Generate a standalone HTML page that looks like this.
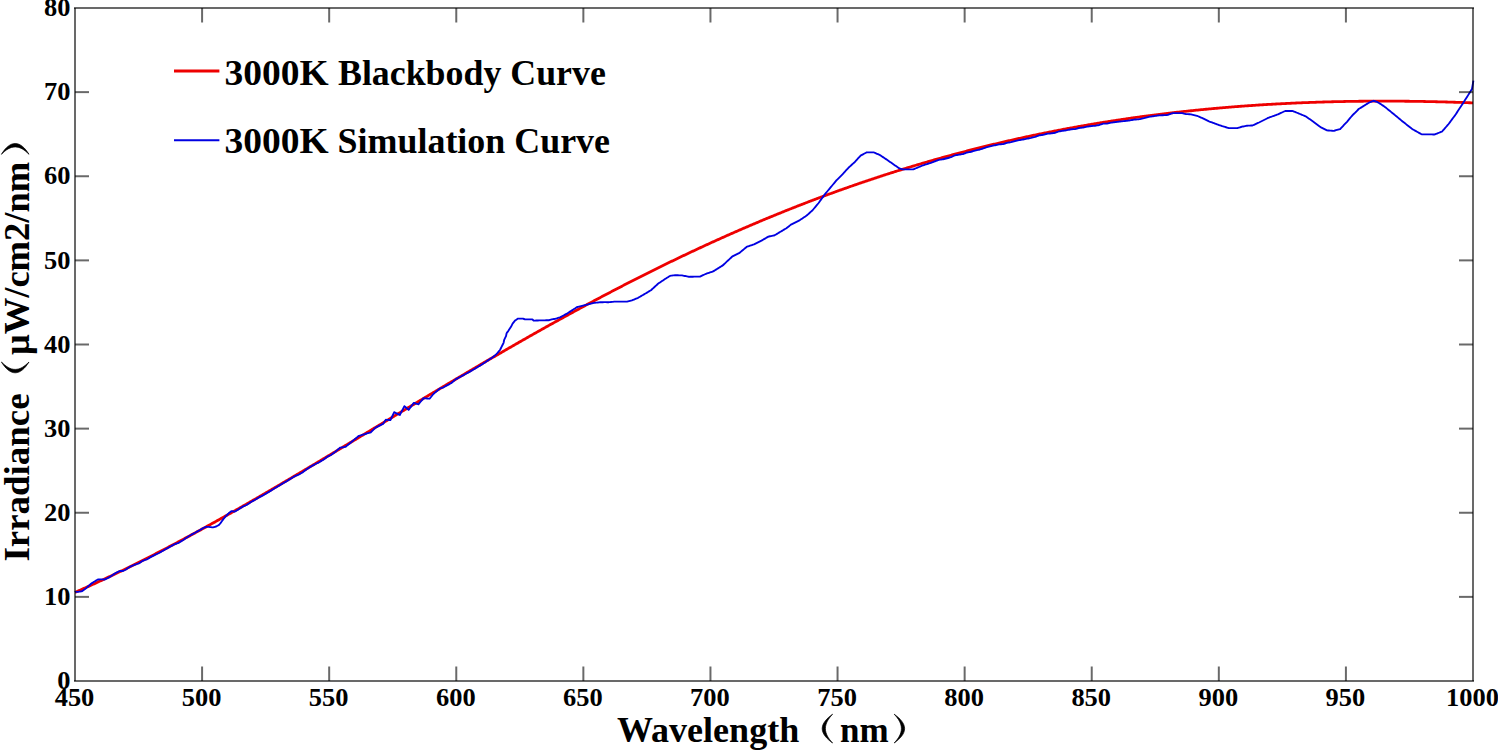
<!DOCTYPE html>
<html><head><meta charset="utf-8"><style>
html,body{margin:0;padding:0;background:#fff;}
svg{display:block;}
text{font-family:"Liberation Serif",serif;font-weight:bold;fill:#000;}
</style></head><body>
<svg width="1498" height="750" viewBox="0 0 1498 750">
<rect width="1498" height="750" fill="#fff"/>
<path d="M75.0,592.39 L76.0,591.95 L77.0,591.51 L78.0,591.07 L79.0,590.63 L80.0,590.18 L81.0,589.74 L82.0,589.29 L83.0,588.85 L84.0,588.40 L85.0,587.95 L86.0,587.50 L87.0,587.05 L88.0,586.60 L89.0,586.15 L90.0,585.69 L91.0,585.24 L92.0,584.78 L93.0,584.32 L94.0,583.87 L95.0,583.41 L96.0,582.95 L97.0,582.49 L98.0,582.03 L99.0,581.56 L100.0,581.10 L101.0,580.63 L102.0,580.17 L103.0,579.70 L104.0,579.23 L105.0,578.76 L106.0,578.29 L107.0,577.82 L108.0,577.35 L109.0,576.88 L110.0,576.40 L111.0,575.93 L112.0,575.45 L113.0,574.98 L114.0,574.50 L115.0,574.02 L116.0,573.54 L117.0,573.06 L118.0,572.58 L119.0,572.10 L120.0,571.61 L121.0,571.13 L122.0,570.65 L123.0,570.16 L124.0,569.67 L125.0,569.18 L126.0,568.70 L127.0,568.21 L128.0,567.71 L129.0,567.22 L130.0,566.73 L131.0,566.24 L132.0,565.74 L133.0,565.25 L134.0,564.75 L135.0,564.25 L136.0,563.76 L137.0,563.26 L138.0,562.76 L139.0,562.26 L140.0,561.76 L141.0,561.25 L142.0,560.75 L143.0,560.25 L144.0,559.74 L145.0,559.24 L146.0,558.73 L147.0,558.22 L148.0,557.71 L149.0,557.20 L150.0,556.69 L151.0,556.18 L152.0,555.67 L153.0,555.16 L154.0,554.65 L155.0,554.13 L156.0,553.62 L157.0,553.10 L158.0,552.59 L159.0,552.07 L160.0,551.55 L161.0,551.03 L162.0,550.51 L163.0,549.99 L164.0,549.47 L165.0,548.95 L166.0,548.42 L167.0,547.90 L168.0,547.38 L169.0,546.85 L170.0,546.32 L171.0,545.80 L172.0,545.27 L173.0,544.74 L174.0,544.21 L175.0,543.68 L176.0,543.15 L177.0,542.62 L178.0,542.09 L179.0,541.55 L180.0,541.02 L181.0,540.49 L182.0,539.95 L183.0,539.42 L184.0,538.88 L185.0,538.34 L186.0,537.80 L187.0,537.27 L188.0,536.73 L189.0,536.19 L190.0,535.65 L191.0,535.10 L192.0,534.56 L193.0,534.02 L194.0,533.48 L195.0,532.93 L196.0,532.39 L197.0,531.84 L198.0,531.30 L199.0,530.75 L200.0,530.20 L201.0,529.65 L202.0,529.10 L203.0,528.55 L204.0,528.00 L205.0,527.45 L206.0,526.90 L207.0,526.35 L208.0,525.80 L209.0,525.24 L210.0,524.69 L211.0,524.14 L212.0,523.58 L213.0,523.02 L214.0,522.47 L215.0,521.91 L216.0,521.35 L217.0,520.80 L218.0,520.24 L219.0,519.68 L220.0,519.12 L221.0,518.56 L222.0,518.00 L223.0,517.43 L224.0,516.87 L225.0,516.31 L226.0,515.75 L227.0,515.18 L228.0,514.62 L229.0,514.05 L230.0,513.49 L231.0,512.92 L232.0,512.35 L233.0,511.79 L234.0,511.22 L235.0,510.65 L236.0,510.08 L237.0,509.51 L238.0,508.94 L239.0,508.37 L240.0,507.80 L241.0,507.23 L242.0,506.66 L243.0,506.09 L244.0,505.51 L245.0,504.94 L246.0,504.37 L247.0,503.79 L248.0,503.22 L249.0,502.64 L250.0,502.07 L251.0,501.49 L252.0,500.91 L253.0,500.34 L254.0,499.76 L255.0,499.18 L256.0,498.60 L257.0,498.02 L258.0,497.44 L259.0,496.86 L260.0,496.28 L261.0,495.70 L262.0,495.12 L263.0,494.54 L264.0,493.96 L265.0,493.38 L266.0,492.80 L267.0,492.21 L268.0,491.63 L269.0,491.04 L270.0,490.46 L271.0,489.88 L272.0,489.29 L273.0,488.71 L274.0,488.12 L275.0,487.53 L276.0,486.95 L277.0,486.36 L278.0,485.77 L279.0,485.19 L280.0,484.60 L281.0,484.01 L282.0,483.42 L283.0,482.83 L284.0,482.24 L285.0,481.65 L286.0,481.06 L287.0,480.47 L288.0,479.88 L289.0,479.29 L290.0,478.70 L291.0,478.11 L292.0,477.52 L293.0,476.92 L294.0,476.33 L295.0,475.74 L296.0,475.15 L297.0,474.55 L298.0,473.96 L299.0,473.37 L300.0,472.77 L301.0,472.18 L302.0,471.58 L303.0,470.99 L304.0,470.39 L305.0,469.80 L306.0,469.20 L307.0,468.60 L308.0,468.01 L309.0,467.41 L310.0,466.82 L311.0,466.22 L312.0,465.62 L313.0,465.02 L314.0,464.43 L315.0,463.83 L316.0,463.23 L317.0,462.63 L318.0,462.03 L319.0,461.44 L320.0,460.84 L321.0,460.24 L322.0,459.64 L323.0,459.04 L324.0,458.44 L325.0,457.84 L326.0,457.24 L327.0,456.64 L328.0,456.04 L329.0,455.44 L330.0,454.84 L331.0,454.24 L332.0,453.64 L333.0,453.03 L334.0,452.43 L335.0,451.83 L336.0,451.23 L337.0,450.63 L338.0,450.03 L339.0,449.43 L340.0,448.82 L341.0,448.22 L342.0,447.62 L343.0,447.02 L344.0,446.41 L345.0,445.81 L346.0,445.21 L347.0,444.61 L348.0,444.00 L349.0,443.40 L350.0,442.80 L351.0,442.19 L352.0,441.59 L353.0,440.99 L354.0,440.38 L355.0,439.78 L356.0,439.18 L357.0,438.57 L358.0,437.97 L359.0,437.37 L360.0,436.76 L361.0,436.16 L362.0,435.55 L363.0,434.95 L364.0,434.35 L365.0,433.74 L366.0,433.14 L367.0,432.53 L368.0,431.93 L369.0,431.33 L370.0,430.72 L371.0,430.12 L372.0,429.51 L373.0,428.91 L374.0,428.31 L375.0,427.70 L376.0,427.10 L377.0,426.49 L378.0,425.89 L379.0,425.28 L380.0,424.68 L381.0,424.08 L382.0,423.47 L383.0,422.87 L384.0,422.26 L385.0,421.66 L386.0,421.06 L387.0,420.45 L388.0,419.85 L389.0,419.24 L390.0,418.64 L391.0,418.04 L392.0,417.43 L393.0,416.83 L394.0,416.23 L395.0,415.62 L396.0,415.02 L397.0,414.42 L398.0,413.81 L399.0,413.21 L400.0,412.61 L401.0,412.00 L402.0,411.40 L403.0,410.80 L404.0,410.20 L405.0,409.59 L406.0,408.99 L407.0,408.39 L408.0,407.79 L409.0,407.18 L410.0,406.58 L411.0,405.98 L412.0,405.38 L413.0,404.78 L414.0,404.18 L415.0,403.57 L416.0,402.97 L417.0,402.37 L418.0,401.77 L419.0,401.17 L420.0,400.57 L421.0,399.97 L422.0,399.37 L423.0,398.77 L424.0,398.17 L425.0,397.57 L426.0,396.97 L427.0,396.37 L428.0,395.77 L429.0,395.17 L430.0,394.57 L431.0,393.97 L432.0,393.37 L433.0,392.78 L434.0,392.18 L435.0,391.58 L436.0,390.98 L437.0,390.38 L438.0,389.79 L439.0,389.19 L440.0,388.59 L441.0,388.00 L442.0,387.40 L443.0,386.80 L444.0,386.21 L445.0,385.61 L446.0,385.02 L447.0,384.42 L448.0,383.82 L449.0,383.23 L450.0,382.63 L451.0,382.04 L452.0,381.45 L453.0,380.85 L454.0,380.26 L455.0,379.67 L456.0,379.07 L457.0,378.48 L458.0,377.89 L459.0,377.29 L460.0,376.70 L461.0,376.11 L462.0,375.52 L463.0,374.93 L464.0,374.34 L465.0,373.74 L466.0,373.15 L467.0,372.56 L468.0,371.97 L469.0,371.38 L470.0,370.80 L471.0,370.21 L472.0,369.62 L473.0,369.03 L474.0,368.44 L475.0,367.85 L476.0,367.27 L477.0,366.68 L478.0,366.09 L479.0,365.51 L480.0,364.92 L481.0,364.33 L482.0,363.75 L483.0,363.16 L484.0,362.58 L485.0,361.99 L486.0,361.41 L487.0,360.83 L488.0,360.24 L489.0,359.66 L490.0,359.08 L491.0,358.49 L492.0,357.91 L493.0,357.33 L494.0,356.75 L495.0,356.17 L496.0,355.59 L497.0,355.01 L498.0,354.43 L499.0,353.85 L500.0,353.27 L501.0,352.69 L502.0,352.11 L503.0,351.53 L504.0,350.96 L505.0,350.38 L506.0,349.80 L507.0,349.23 L508.0,348.65 L509.0,348.07 L510.0,347.50 L511.0,346.92 L512.0,346.35 L513.0,345.78 L514.0,345.20 L515.0,344.63 L516.0,344.06 L517.0,343.48 L518.0,342.91 L519.0,342.34 L520.0,341.77 L521.0,341.20 L522.0,340.63 L523.0,340.06 L524.0,339.49 L525.0,338.92 L526.0,338.35 L527.0,337.78 L528.0,337.22 L529.0,336.65 L530.0,336.08 L531.0,335.52 L532.0,334.95 L533.0,334.39 L534.0,333.82 L535.0,333.26 L536.0,332.69 L537.0,332.13 L538.0,331.57 L539.0,331.00 L540.0,330.44 L541.0,329.88 L542.0,329.32 L543.0,328.76 L544.0,328.20 L545.0,327.64 L546.0,327.08 L547.0,326.52 L548.0,325.96 L549.0,325.40 L550.0,324.85 L551.0,324.29 L552.0,323.73 L553.0,323.18 L554.0,322.62 L555.0,322.07 L556.0,321.51 L557.0,320.96 L558.0,320.41 L559.0,319.85 L560.0,319.30 L561.0,318.75 L562.0,318.20 L563.0,317.65 L564.0,317.10 L565.0,316.55 L566.0,316.00 L567.0,315.45 L568.0,314.90 L569.0,314.36 L570.0,313.81 L571.0,313.26 L572.0,312.72 L573.0,312.17 L574.0,311.63 L575.0,311.08 L576.0,310.54 L577.0,310.00 L578.0,309.45 L579.0,308.91 L580.0,308.37 L581.0,307.83 L582.0,307.29 L583.0,306.75 L584.0,306.21 L585.0,305.67 L586.0,305.13 L587.0,304.59 L588.0,304.06 L589.0,303.52 L590.0,302.98 L591.0,302.45 L592.0,301.91 L593.0,301.38 L594.0,300.85 L595.0,300.31 L596.0,299.78 L597.0,299.25 L598.0,298.72 L599.0,298.19 L600.0,297.66 L601.0,297.13 L602.0,296.60 L603.0,296.07 L604.0,295.54 L605.0,295.02 L606.0,294.49 L607.0,293.96 L608.0,293.44 L609.0,292.91 L610.0,292.39 L611.0,291.87 L612.0,291.34 L613.0,290.82 L614.0,290.30 L615.0,289.78 L616.0,289.26 L617.0,288.74 L618.0,288.22 L619.0,287.70 L620.0,287.18 L621.0,286.66 L622.0,286.15 L623.0,285.63 L624.0,285.11 L625.0,284.60 L626.0,284.08 L627.0,283.57 L628.0,283.06 L629.0,282.55 L630.0,282.03 L631.0,281.52 L632.0,281.01 L633.0,280.50 L634.0,279.99 L635.0,279.48 L636.0,278.98 L637.0,278.47 L638.0,277.96 L639.0,277.46 L640.0,276.95 L641.0,276.45 L642.0,275.94 L643.0,275.44 L644.0,274.94 L645.0,274.43 L646.0,273.93 L647.0,273.43 L648.0,272.93 L649.0,272.43 L650.0,271.93 L651.0,271.43 L652.0,270.94 L653.0,270.44 L654.0,269.94 L655.0,269.45 L656.0,268.95 L657.0,268.46 L658.0,267.97 L659.0,267.47 L660.0,266.98 L661.0,266.49 L662.0,266.00 L663.0,265.51 L664.0,265.02 L665.0,264.53 L666.0,264.04 L667.0,263.55 L668.0,263.07 L669.0,262.58 L670.0,262.10 L671.0,261.61 L672.0,261.13 L673.0,260.64 L674.0,260.16 L675.0,259.68 L676.0,259.20 L677.0,258.72 L678.0,258.24 L679.0,257.76 L680.0,257.28 L681.0,256.80 L682.0,256.32 L683.0,255.85 L684.0,255.37 L685.0,254.90 L686.0,254.42 L687.0,253.95 L688.0,253.48 L689.0,253.00 L690.0,252.53 L691.0,252.06 L692.0,251.59 L693.0,251.12 L694.0,250.65 L695.0,250.18 L696.0,249.72 L697.0,249.25 L698.0,248.79 L699.0,248.32 L700.0,247.86 L701.0,247.39 L702.0,246.93 L703.0,246.47 L704.0,246.00 L705.0,245.54 L706.0,245.08 L707.0,244.62 L708.0,244.17 L709.0,243.71 L710.0,243.25 L711.0,242.79 L712.0,242.34 L713.0,241.88 L714.0,241.43 L715.0,240.98 L716.0,240.52 L717.0,240.07 L718.0,239.62 L719.0,239.17 L720.0,238.72 L721.0,238.27 L722.0,237.82 L723.0,237.37 L724.0,236.93 L725.0,236.48 L726.0,236.03 L727.0,235.59 L728.0,235.14 L729.0,234.70 L730.0,234.26 L731.0,233.82 L732.0,233.38 L733.0,232.93 L734.0,232.50 L735.0,232.06 L736.0,231.62 L737.0,231.18 L738.0,230.74 L739.0,230.31 L740.0,229.87 L741.0,229.44 L742.0,229.00 L743.0,228.57 L744.0,228.14 L745.0,227.71 L746.0,227.28 L747.0,226.85 L748.0,226.42 L749.0,225.99 L750.0,225.56 L751.0,225.13 L752.0,224.71 L753.0,224.28 L754.0,223.86 L755.0,223.43 L756.0,223.01 L757.0,222.59 L758.0,222.17 L759.0,221.75 L760.0,221.33 L761.0,220.91 L762.0,220.49 L763.0,220.07 L764.0,219.65 L765.0,219.24 L766.0,218.82 L767.0,218.41 L768.0,217.99 L769.0,217.58 L770.0,217.16 L771.0,216.75 L772.0,216.34 L773.0,215.93 L774.0,215.52 L775.0,215.11 L776.0,214.71 L777.0,214.30 L778.0,213.89 L779.0,213.49 L780.0,213.08 L781.0,212.68 L782.0,212.27 L783.0,211.87 L784.0,211.47 L785.0,211.07 L786.0,210.67 L787.0,210.27 L788.0,209.87 L789.0,209.47 L790.0,209.07 L791.0,208.68 L792.0,208.28 L793.0,207.89 L794.0,207.49 L795.0,207.10 L796.0,206.71 L797.0,206.31 L798.0,205.92 L799.0,205.53 L800.0,205.14 L801.0,204.75 L802.0,204.37 L803.0,203.98 L804.0,203.59 L805.0,203.21 L806.0,202.82 L807.0,202.44 L808.0,202.05 L809.0,201.67 L810.0,201.29 L811.0,200.91 L812.0,200.53 L813.0,200.15 L814.0,199.77 L815.0,199.39 L816.0,199.01 L817.0,198.64 L818.0,198.26 L819.0,197.89 L820.0,197.51 L821.0,197.14 L822.0,196.77 L823.0,196.39 L824.0,196.02 L825.0,195.65 L826.0,195.28 L827.0,194.92 L828.0,194.55 L829.0,194.18 L830.0,193.81 L831.0,193.45 L832.0,193.08 L833.0,192.72 L834.0,192.36 L835.0,191.99 L836.0,191.63 L837.0,191.27 L838.0,190.91 L839.0,190.55 L840.0,190.19 L841.0,189.84 L842.0,189.48 L843.0,189.12 L844.0,188.77 L845.0,188.41 L846.0,188.06 L847.0,187.71 L848.0,187.35 L849.0,187.00 L850.0,186.65 L851.0,186.30 L852.0,185.95 L853.0,185.60 L854.0,185.26 L855.0,184.91 L856.0,184.56 L857.0,184.22 L858.0,183.87 L859.0,183.53 L860.0,183.19 L861.0,182.84 L862.0,182.50 L863.0,182.16 L864.0,181.82 L865.0,181.48 L866.0,181.14 L867.0,180.81 L868.0,180.47 L869.0,180.13 L870.0,179.80 L871.0,179.46 L872.0,179.13 L873.0,178.80 L874.0,178.47 L875.0,178.13 L876.0,177.80 L877.0,177.47 L878.0,177.15 L879.0,176.82 L880.0,176.49 L881.0,176.16 L882.0,175.84 L883.0,175.51 L884.0,175.19 L885.0,174.87 L886.0,174.54 L887.0,174.22 L888.0,173.90 L889.0,173.58 L890.0,173.26 L891.0,172.94 L892.0,172.62 L893.0,172.31 L894.0,171.99 L895.0,171.67 L896.0,171.36 L897.0,171.04 L898.0,170.73 L899.0,170.42 L900.0,170.11 L901.0,169.80 L902.0,169.49 L903.0,169.18 L904.0,168.87 L905.0,168.56 L906.0,168.25 L907.0,167.95 L908.0,167.64 L909.0,167.34 L910.0,167.03 L911.0,166.73 L912.0,166.43 L913.0,166.12 L914.0,165.82 L915.0,165.52 L916.0,165.22 L917.0,164.92 L918.0,164.63 L919.0,164.33 L920.0,164.03 L921.0,163.74 L922.0,163.44 L923.0,163.15 L924.0,162.86 L925.0,162.56 L926.0,162.27 L927.0,161.98 L928.0,161.69 L929.0,161.40 L930.0,161.11 L931.0,160.82 L932.0,160.54 L933.0,160.25 L934.0,159.97 L935.0,159.68 L936.0,159.40 L937.0,159.11 L938.0,158.83 L939.0,158.55 L940.0,158.27 L941.0,157.99 L942.0,157.71 L943.0,157.43 L944.0,157.15 L945.0,156.88 L946.0,156.60 L947.0,156.32 L948.0,156.05 L949.0,155.77 L950.0,155.50 L951.0,155.23 L952.0,154.96 L953.0,154.69 L954.0,154.42 L955.0,154.15 L956.0,153.88 L957.0,153.61 L958.0,153.34 L959.0,153.08 L960.0,152.81 L961.0,152.55 L962.0,152.28 L963.0,152.02 L964.0,151.76 L965.0,151.49 L966.0,151.23 L967.0,150.97 L968.0,150.71 L969.0,150.45 L970.0,150.20 L971.0,149.94 L972.0,149.68 L973.0,149.43 L974.0,149.17 L975.0,148.92 L976.0,148.66 L977.0,148.41 L978.0,148.16 L979.0,147.91 L980.0,147.66 L981.0,147.41 L982.0,147.16 L983.0,146.91 L984.0,146.66 L985.0,146.42 L986.0,146.17 L987.0,145.92 L988.0,145.68 L989.0,145.44 L990.0,145.19 L991.0,144.95 L992.0,144.71 L993.0,144.47 L994.0,144.23 L995.0,143.99 L996.0,143.75 L997.0,143.51 L998.0,143.27 L999.0,143.04 L1000.0,142.80 L1001.0,142.57 L1002.0,142.33 L1003.0,142.10 L1004.0,141.87 L1005.0,141.64 L1006.0,141.40 L1007.0,141.17 L1008.0,140.94 L1009.0,140.72 L1010.0,140.49 L1011.0,140.26 L1012.0,140.03 L1013.0,139.81 L1014.0,139.58 L1015.0,139.36 L1016.0,139.13 L1017.0,138.91 L1018.0,138.69 L1019.0,138.47 L1020.0,138.25 L1021.0,138.03 L1022.0,137.81 L1023.0,137.59 L1024.0,137.37 L1025.0,137.15 L1026.0,136.94 L1027.0,136.72 L1028.0,136.51 L1029.0,136.29 L1030.0,136.08 L1031.0,135.86 L1032.0,135.65 L1033.0,135.44 L1034.0,135.23 L1035.0,135.02 L1036.0,134.81 L1037.0,134.60 L1038.0,134.40 L1039.0,134.19 L1040.0,133.98 L1041.0,133.78 L1042.0,133.57 L1043.0,133.37 L1044.0,133.16 L1045.0,132.96 L1046.0,132.76 L1047.0,132.56 L1048.0,132.36 L1049.0,132.16 L1050.0,131.96 L1051.0,131.76 L1052.0,131.56 L1053.0,131.37 L1054.0,131.17 L1055.0,130.97 L1056.0,130.78 L1057.0,130.58 L1058.0,130.39 L1059.0,130.20 L1060.0,130.01 L1061.0,129.82 L1062.0,129.62 L1063.0,129.43 L1064.0,129.25 L1065.0,129.06 L1066.0,128.87 L1067.0,128.68 L1068.0,128.50 L1069.0,128.31 L1070.0,128.13 L1071.0,127.94 L1072.0,127.76 L1073.0,127.57 L1074.0,127.39 L1075.0,127.21 L1076.0,127.03 L1077.0,126.85 L1078.0,126.67 L1079.0,126.49 L1080.0,126.31 L1081.0,126.14 L1082.0,125.96 L1083.0,125.78 L1084.0,125.61 L1085.0,125.44 L1086.0,125.26 L1087.0,125.09 L1088.0,124.92 L1089.0,124.74 L1090.0,124.57 L1091.0,124.40 L1092.0,124.23 L1093.0,124.06 L1094.0,123.90 L1095.0,123.73 L1096.0,123.56 L1097.0,123.40 L1098.0,123.23 L1099.0,123.07 L1100.0,122.90 L1101.0,122.74 L1102.0,122.57 L1103.0,122.41 L1104.0,122.25 L1105.0,122.09 L1106.0,121.93 L1107.0,121.77 L1108.0,121.61 L1109.0,121.45 L1110.0,121.30 L1111.0,121.14 L1112.0,120.98 L1113.0,120.83 L1114.0,120.67 L1115.0,120.52 L1116.0,120.37 L1117.0,120.21 L1118.0,120.06 L1119.0,119.91 L1120.0,119.76 L1121.0,119.61 L1122.0,119.46 L1123.0,119.31 L1124.0,119.17 L1125.0,119.02 L1126.0,118.87 L1127.0,118.73 L1128.0,118.58 L1129.0,118.44 L1130.0,118.29 L1131.0,118.15 L1132.0,118.01 L1133.0,117.86 L1134.0,117.72 L1135.0,117.58 L1136.0,117.44 L1137.0,117.30 L1138.0,117.16 L1139.0,117.03 L1140.0,116.89 L1141.0,116.75 L1142.0,116.62 L1143.0,116.48 L1144.0,116.35 L1145.0,116.21 L1146.0,116.08 L1147.0,115.95 L1148.0,115.81 L1149.0,115.68 L1150.0,115.55 L1151.0,115.42 L1152.0,115.29 L1153.0,115.16 L1154.0,115.03 L1155.0,114.91 L1156.0,114.78 L1157.0,114.65 L1158.0,114.53 L1159.0,114.40 L1160.0,114.28 L1161.0,114.15 L1162.0,114.03 L1163.0,113.91 L1164.0,113.79 L1165.0,113.67 L1166.0,113.55 L1167.0,113.43 L1168.0,113.31 L1169.0,113.19 L1170.0,113.07 L1171.0,112.95 L1172.0,112.84 L1173.0,112.72 L1174.0,112.60 L1175.0,112.49 L1176.0,112.38 L1177.0,112.26 L1178.0,112.15 L1179.0,112.04 L1180.0,111.92 L1181.0,111.81 L1182.0,111.70 L1183.0,111.59 L1184.0,111.48 L1185.0,111.38 L1186.0,111.27 L1187.0,111.16 L1188.0,111.05 L1189.0,110.95 L1190.0,110.84 L1191.0,110.74 L1192.0,110.63 L1193.0,110.53 L1194.0,110.43 L1195.0,110.32 L1196.0,110.22 L1197.0,110.12 L1198.0,110.02 L1199.0,109.92 L1200.0,109.82 L1201.0,109.72 L1202.0,109.62 L1203.0,109.53 L1204.0,109.43 L1205.0,109.33 L1206.0,109.24 L1207.0,109.14 L1208.0,109.05 L1209.0,108.96 L1210.0,108.86 L1211.0,108.77 L1212.0,108.68 L1213.0,108.59 L1214.0,108.49 L1215.0,108.40 L1216.0,108.31 L1217.0,108.23 L1218.0,108.14 L1219.0,108.05 L1220.0,107.96 L1221.0,107.88 L1222.0,107.79 L1223.0,107.70 L1224.0,107.62 L1225.0,107.54 L1226.0,107.45 L1227.0,107.37 L1228.0,107.29 L1229.0,107.20 L1230.0,107.12 L1231.0,107.04 L1232.0,106.96 L1233.0,106.88 L1234.0,106.80 L1235.0,106.72 L1236.0,106.65 L1237.0,106.57 L1238.0,106.49 L1239.0,106.42 L1240.0,106.34 L1241.0,106.27 L1242.0,106.19 L1243.0,106.12 L1244.0,106.05 L1245.0,105.97 L1246.0,105.90 L1247.0,105.83 L1248.0,105.76 L1249.0,105.69 L1250.0,105.62 L1251.0,105.55 L1252.0,105.48 L1253.0,105.41 L1254.0,105.34 L1255.0,105.28 L1256.0,105.21 L1257.0,105.15 L1258.0,105.08 L1259.0,105.02 L1260.0,104.95 L1261.0,104.89 L1262.0,104.83 L1263.0,104.76 L1264.0,104.70 L1265.0,104.64 L1266.0,104.58 L1267.0,104.52 L1268.0,104.46 L1269.0,104.40 L1270.0,104.34 L1271.0,104.28 L1272.0,104.23 L1273.0,104.17 L1274.0,104.11 L1275.0,104.06 L1276.0,104.00 L1277.0,103.95 L1278.0,103.89 L1279.0,103.84 L1280.0,103.79 L1281.0,103.74 L1282.0,103.68 L1283.0,103.63 L1284.0,103.58 L1285.0,103.53 L1286.0,103.48 L1287.0,103.43 L1288.0,103.38 L1289.0,103.34 L1290.0,103.29 L1291.0,103.24 L1292.0,103.20 L1293.0,103.15 L1294.0,103.10 L1295.0,103.06 L1296.0,103.02 L1297.0,102.97 L1298.0,102.93 L1299.0,102.89 L1300.0,102.84 L1301.0,102.80 L1302.0,102.76 L1303.0,102.72 L1304.0,102.68 L1305.0,102.64 L1306.0,102.60 L1307.0,102.56 L1308.0,102.53 L1309.0,102.49 L1310.0,102.45 L1311.0,102.42 L1312.0,102.38 L1313.0,102.34 L1314.0,102.31 L1315.0,102.28 L1316.0,102.24 L1317.0,102.21 L1318.0,102.18 L1319.0,102.14 L1320.0,102.11 L1321.0,102.08 L1322.0,102.05 L1323.0,102.02 L1324.0,101.99 L1325.0,101.96 L1326.0,101.93 L1327.0,101.90 L1328.0,101.88 L1329.0,101.85 L1330.0,101.82 L1331.0,101.80 L1332.0,101.77 L1333.0,101.75 L1334.0,101.72 L1335.0,101.70 L1336.0,101.68 L1337.0,101.65 L1338.0,101.63 L1339.0,101.61 L1340.0,101.59 L1341.0,101.57 L1342.0,101.55 L1343.0,101.53 L1344.0,101.51 L1345.0,101.49 L1346.0,101.47 L1347.0,101.45 L1348.0,101.43 L1349.0,101.42 L1350.0,101.40 L1351.0,101.38 L1352.0,101.37 L1353.0,101.35 L1354.0,101.34 L1355.0,101.32 L1356.0,101.31 L1357.0,101.30 L1358.0,101.29 L1359.0,101.27 L1360.0,101.26 L1361.0,101.25 L1362.0,101.24 L1363.0,101.23 L1364.0,101.22 L1365.0,101.21 L1366.0,101.20 L1367.0,101.19 L1368.0,101.19 L1369.0,101.18 L1370.0,101.17 L1371.0,101.17 L1372.0,101.16 L1373.0,101.15 L1374.0,101.15 L1375.0,101.14 L1376.0,101.14 L1377.0,101.14 L1378.0,101.13 L1379.0,101.13 L1380.0,101.13 L1381.0,101.13 L1382.0,101.13 L1383.0,101.13 L1384.0,101.13 L1385.0,101.13 L1386.0,101.13 L1387.0,101.13 L1388.0,101.13 L1389.0,101.13 L1390.0,101.13 L1391.0,101.14 L1392.0,101.14 L1393.0,101.15 L1394.0,101.15 L1395.0,101.15 L1396.0,101.16 L1397.0,101.17 L1398.0,101.17 L1399.0,101.18 L1400.0,101.19 L1401.0,101.19 L1402.0,101.20 L1403.0,101.21 L1404.0,101.22 L1405.0,101.23 L1406.0,101.24 L1407.0,101.25 L1408.0,101.26 L1409.0,101.27 L1410.0,101.28 L1411.0,101.29 L1412.0,101.31 L1413.0,101.32 L1414.0,101.33 L1415.0,101.35 L1416.0,101.36 L1417.0,101.38 L1418.0,101.39 L1419.0,101.41 L1420.0,101.42 L1421.0,101.44 L1422.0,101.46 L1423.0,101.47 L1424.0,101.49 L1425.0,101.51 L1426.0,101.53 L1427.0,101.55 L1428.0,101.57 L1429.0,101.59 L1430.0,101.61 L1431.0,101.63 L1432.0,101.65 L1433.0,101.67 L1434.0,101.69 L1435.0,101.72 L1436.0,101.74 L1437.0,101.76 L1438.0,101.79 L1439.0,101.81 L1440.0,101.84 L1441.0,101.86 L1442.0,101.89 L1443.0,101.91 L1444.0,101.94 L1445.0,101.97 L1446.0,101.99 L1447.0,102.02 L1448.0,102.05 L1449.0,102.08 L1450.0,102.11 L1451.0,102.14 L1452.0,102.16 L1453.0,102.19 L1454.0,102.23 L1455.0,102.26 L1456.0,102.29 L1457.0,102.32 L1458.0,102.35 L1459.0,102.38 L1460.0,102.42 L1461.0,102.45 L1462.0,102.48 L1463.0,102.52 L1464.0,102.55 L1465.0,102.59 L1466.0,102.62 L1467.0,102.66 L1468.0,102.70 L1469.0,102.73 L1470.0,102.77 L1471.0,102.81 L1472.0,102.84 L1473.0,102.88" fill="none" stroke="#ee0000" stroke-width="2.8" stroke-linejoin="round"/>
<path d="M75.0,592.02 L75.5,591.80 L76.0,591.80 L77.0,591.80 L78.0,591.80 L78.2,591.80 L79.0,591.69 L80.0,591.56 L81.0,591.42 L81.9,591.30 L82.0,591.23 L83.0,590.52 L84.0,589.81 L85.0,589.10 L85.7,588.60 L86.0,588.33 L87.0,587.43 L88.0,586.52 L89.0,585.61 L90.0,584.71 L91.0,583.80 L92.0,583.14 L93.0,582.49 L94.0,581.83 L94.2,581.70 L95.0,581.23 L96.0,580.63 L97.0,580.04 L97.9,579.50 L98.0,579.49 L99.0,579.42 L100.0,579.35 L100.6,579.30 L101.0,579.32 L102.0,579.37 L103.0,579.41 L104.0,579.46 L104.9,579.50 L105.0,579.45 L106.0,578.95 L107.0,578.45 L108.0,577.95 L108.1,577.90 L109.0,577.34 L110.0,576.73 L111.0,576.11 L112.0,575.49 L112.3,575.30 L113.0,574.82 L114.0,574.13 L115.0,573.44 L115.5,573.10 L116.0,572.86 L117.0,572.37 L118.0,571.88 L119.0,571.39 L119.8,571.00 L120.0,571.00 L121.0,571.00 L122.0,571.00 L123.0,571.00 L124.0,570.50 L125.0,570.00 L126.0,569.50 L126.2,569.40 L127.0,568.83 L128.0,568.12 L129.0,567.41 L130.0,566.70 L131.0,566.30 L132.0,565.90 L133.0,565.51 L134.0,565.11 L135.0,564.70 L136.0,564.35 L137.0,564.00 L138.0,563.65 L139.0,563.29 L140.0,562.64 L141.0,561.99 L142.0,561.34 L143.0,560.68 L144.0,560.34 L145.0,559.99 L146.0,559.65 L147.0,559.30 L148.0,558.69 L149.0,558.09 L150.0,557.48 L151.0,556.87 L152.0,556.39 L153.0,555.90 L154.0,555.42 L155.0,554.93 L156.0,554.45 L157.0,553.97 L158.0,553.49 L159.0,553.01 L160.0,552.43 L161.0,551.86 L162.0,551.28 L163.0,550.71 L164.0,550.14 L165.0,549.56 L166.0,548.99 L167.0,548.42 L168.0,547.87 L169.0,547.32 L170.0,546.77 L171.0,546.22 L172.0,545.66 L173.0,545.11 L174.0,544.56 L175.0,544.00 L176.0,543.74 L177.0,543.47 L178.0,543.20 L179.0,542.60 L180.0,541.99 L181.0,541.39 L182.0,540.79 L183.0,540.18 L183.3,540.00 L184.0,539.51 L185.0,538.81 L186.0,538.10 L187.0,537.40 L188.0,536.69 L188.7,536.20 L189.0,536.04 L190.0,535.49 L191.0,534.94 L192.0,534.40 L193.0,533.85 L194.0,533.30 L195.0,532.75 L196.0,532.21 L197.0,531.66 L198.0,531.11 L199.0,530.56 L199.3,530.40 L200.0,530.00 L201.0,529.42 L202.0,528.84 L203.0,528.26 L203.1,528.20 L204.0,527.75 L205.0,527.25 L205.7,526.90 L206.0,526.90 L207.0,526.90 L208.0,526.90 L208.9,526.90 L209.0,526.91 L210.0,527.05 L211.0,527.18 L212.0,527.31 L212.7,527.40 L213.0,527.32 L214.0,527.05 L215.0,526.78 L216.0,526.51 L216.4,526.40 L217.0,526.04 L218.0,525.45 L219.0,524.86 L219.1,524.80 L220.0,523.73 L220.7,522.90 L221.0,522.47 L222.0,521.05 L223.0,519.63 L223.3,519.20 L224.0,518.37 L225.0,517.19 L226.0,516.00 L227.0,515.00 L228.0,514.00 L228.7,513.30 L229.0,513.06 L230.0,512.25 L231.0,511.44 L231.3,511.20 L232.0,511.27 L233.0,511.37 L234.0,511.47 L235.0,511.57 L236.0,510.93 L237.0,510.29 L238.0,509.66 L239.0,509.02 L240.0,508.39 L241.0,507.75 L242.0,507.11 L243.0,506.48 L244.0,506.07 L245.0,505.66 L246.0,505.25 L247.0,504.83 L248.0,504.12 L249.0,503.41 L250.0,502.70 L251.0,501.99 L252.0,501.44 L253.0,500.90 L254.0,500.35 L255.0,499.80 L256.0,499.20 L257.0,498.59 L258.0,497.99 L259.0,497.38 L260.0,496.88 L261.0,496.37 L262.0,495.86 L263.0,495.36 L264.0,494.76 L265.0,494.17 L266.0,493.58 L267.0,492.98 L268.0,492.41 L269.0,491.83 L270.0,491.25 L271.0,490.67 L272.0,490.01 L273.0,489.35 L274.0,488.68 L275.0,488.02 L276.0,487.44 L277.0,486.86 L278.0,486.28 L279.0,485.69 L280.0,485.10 L281.0,484.50 L282.0,483.91 L283.0,483.31 L284.0,482.74 L285.0,482.16 L286.0,481.59 L287.0,481.02 L288.0,480.39 L289.0,479.75 L290.0,479.12 L291.0,478.49 L292.0,477.90 L293.0,477.31 L294.0,476.73 L295.0,476.14 L296.0,475.72 L297.0,475.31 L298.0,474.90 L299.0,474.48 L300.0,473.89 L301.0,473.29 L302.0,472.70 L303.0,472.10 L304.0,471.33 L305.0,470.56 L306.0,469.79 L307.0,469.02 L308.0,468.39 L309.0,467.76 L310.0,467.12 L311.0,466.49 L312.0,465.93 L313.0,465.38 L314.0,464.82 L315.0,464.26 L316.0,463.78 L317.0,463.29 L318.0,462.80 L319.0,462.32 L320.0,461.73 L321.0,461.15 L322.0,460.57 L323.0,459.99 L324.0,459.22 L325.0,458.45 L326.0,457.68 L327.0,456.91 L328.0,456.43 L329.0,455.96 L330.0,455.48 L331.0,455.01 L332.0,454.28 L333.0,453.55 L334.0,452.81 L335.0,452.08 L336.0,451.21 L337.0,450.33 L338.0,449.45 L339.0,448.58 L340.0,447.70 L341.0,447.54 L342.0,447.38 L343.0,447.22 L344.0,447.06 L345.0,446.90 L345.6,446.80 L346.0,446.47 L347.0,445.65 L348.0,444.82 L349.0,444.00 L350.0,443.17 L351.0,442.35 L352.0,441.53 L353.0,440.70 L354.0,439.88 L355.0,439.05 L356.0,438.23 L357.0,437.40 L358.0,436.58 L358.7,436.00 L359.0,435.90 L360.0,435.58 L361.0,435.26 L361.5,435.10 L362.0,434.95 L363.0,434.65 L364.0,434.35 L365.0,434.05 L366.0,433.75 L367.0,433.44 L368.0,433.14 L369.0,432.84 L370.0,432.54 L370.8,432.30 L371.0,432.10 L372.0,431.10 L373.0,430.10 L374.0,429.10 L375.0,428.10 L375.5,427.60 L376.0,427.35 L377.0,426.86 L378.0,426.37 L379.0,425.87 L380.0,425.38 L381.0,424.89 L382.0,424.39 L383.0,423.90 L384.0,422.40 L385.0,420.90 L385.8,419.70 L386.0,419.72 L387.0,419.80 L388.0,419.89 L389.0,419.98 L390.0,420.07 L390.4,420.10 L391.0,418.85 L392.0,416.77 L393.0,414.69 L394.0,412.62 L394.2,412.20 L395.0,412.60 L396.0,413.10 L397.0,413.60 L398.0,414.10 L399.0,414.60 L399.8,415.00 L400.0,414.61 L401.0,412.68 L402.0,410.74 L403.0,408.81 L404.0,406.87 L404.4,406.10 L405.0,406.64 L406.0,407.55 L407.0,408.45 L408.0,409.36 L408.6,409.90 L409.0,409.36 L410.0,408.02 L411.0,406.67 L412.0,405.32 L413.0,403.98 L413.8,402.90 L414.0,402.96 L415.0,403.26 L416.0,403.57 L417.0,403.87 L418.0,404.18 L418.4,404.30 L419.0,403.60 L420.0,402.42 L421.0,401.25 L422.0,400.08 L423.0,398.90 L423.6,398.20 L424.0,398.23 L425.0,398.32 L426.0,398.40 L427.0,398.48 L428.0,398.57 L429.0,398.65 L429.6,398.70 L430.0,398.21 L431.0,396.97 L432.0,395.73 L433.0,394.49 L433.4,394.00 L434.0,393.49 L435.0,392.64 L436.0,391.79 L437.0,390.94 L438.0,390.10 L439.0,389.25 L440.0,388.40 L441.0,388.14 L442.0,387.88 L443.0,387.62 L444.0,387.05 L445.0,386.48 L446.0,385.91 L447.0,385.35 L448.0,384.83 L449.0,384.31 L450.0,383.79 L451.0,383.28 L452.0,382.43 L453.0,381.59 L454.0,380.75 L455.0,379.91 L455.6,379.40 L456.0,379.18 L457.0,378.64 L458.0,378.10 L459.0,377.55 L460.0,377.01 L461.0,376.47 L462.0,375.93 L463.0,375.38 L464.0,374.84 L465.0,374.30 L466.0,373.76 L467.0,373.22 L468.0,372.68 L469.0,372.14 L470.0,371.60 L471.0,371.00 L472.0,370.40 L473.0,369.80 L474.0,369.19 L475.0,368.59 L476.0,367.99 L477.0,367.39 L478.0,366.79 L479.0,366.20 L480.0,365.60 L481.0,365.00 L482.0,364.40 L483.0,363.73 L484.0,363.06 L485.0,362.40 L486.0,361.73 L487.0,361.06 L488.0,360.39 L489.0,359.73 L490.0,359.06 L491.0,358.40 L492.0,357.73 L492.8,357.20 L493.0,357.03 L494.0,356.20 L495.0,355.37 L496.0,354.53 L496.4,354.20 L497.0,353.50 L498.0,352.33 L499.0,351.17 L500.0,350.00 L501.0,348.00 L501.8,346.40 L502.0,346.00 L503.0,344.00 L503.6,342.80 L504.0,340.80 L504.2,339.80 L505.0,338.20 L506.0,336.20 L506.6,333.20 L507.0,332.67 L508.0,331.33 L508.4,330.80 L509.0,329.84 L510.0,328.24 L511.0,326.64 L511.4,326.00 L512.0,324.80 L512.6,323.60 L513.0,323.10 L514.0,321.85 L515.0,320.60 L516.0,319.93 L517.0,319.27 L518.0,318.60 L519.0,318.60 L520.0,318.60 L521.0,318.60 L522.0,318.60 L522.8,318.60 L523.0,318.67 L524.0,319.00 L525.0,319.33 L525.2,319.40 L526.0,319.40 L527.0,319.40 L528.0,319.40 L529.0,319.40 L530.0,319.40 L531.0,319.40 L532.0,319.40 L532.4,319.40 L533.0,320.00 L533.6,320.60 L534.0,320.59 L535.0,320.56 L536.0,320.53 L537.0,320.50 L538.0,320.48 L539.0,320.45 L540.0,320.42 L541.0,320.40 L542.0,320.37 L543.0,320.35 L544.0,320.32 L545.0,320.30 L546.0,320.27 L547.0,320.25 L548.0,320.23 L549.0,320.20 L549.2,320.20 L550.0,319.93 L551.0,319.60 L551.6,319.40 L552.0,319.33 L553.0,319.17 L554.0,319.00 L555.0,318.83 L555.2,318.80 L556.0,318.57 L557.0,318.27 L558.0,317.98 L559.0,317.69 L560.0,317.40 L561.0,316.86 L562.0,316.31 L563.0,315.77 L564.0,315.23 L565.0,314.68 L566.0,314.14 L567.0,313.60 L568.0,312.95 L569.0,312.30 L570.0,311.65 L571.0,311.01 L572.0,310.36 L573.0,309.71 L574.0,309.06 L575.0,308.42 L576.0,307.77 L577.0,307.13 L577.2,307.00 L578.0,306.81 L579.0,306.57 L580.0,306.34 L581.0,306.10 L582.0,305.86 L583.0,305.63 L584.0,305.39 L585.0,305.16 L586.0,304.93 L587.0,304.69 L587.4,304.60 L588.0,304.45 L589.0,304.20 L590.0,303.95 L591.0,303.70 L592.0,303.45 L593.0,303.20 L594.0,302.95 L594.6,302.80 L595.0,302.76 L596.0,302.66 L597.0,302.56 L598.0,302.46 L599.0,302.36 L600.0,302.26 L600.6,302.20 L601.0,302.20 L602.0,302.20 L603.0,302.20 L604.0,302.19 L605.0,302.19 L606.0,302.20 L607.0,302.20 L608.0,302.20 L609.0,302.20 L610.0,302.10 L611.0,302.00 L612.0,301.90 L613.0,301.80 L614.0,301.70 L615.0,301.60 L616.0,301.60 L617.0,301.59 L618.0,301.59 L619.0,301.59 L620.0,301.59 L621.0,301.59 L622.0,301.59 L623.0,301.59 L624.0,301.59 L625.0,301.59 L626.0,301.60 L627.0,301.60 L628.0,301.35 L629.0,301.10 L630.0,300.85 L631.0,300.60 L631.8,300.40 L632.0,300.32 L633.0,299.92 L634.0,299.52 L635.0,299.12 L636.0,298.72 L637.0,298.32 L637.8,298.00 L638.0,297.88 L639.0,297.30 L640.0,296.71 L641.0,296.13 L642.0,295.55 L643.0,294.96 L644.0,294.38 L645.0,293.80 L646.0,293.20 L647.0,292.60 L648.0,292.00 L649.0,291.40 L650.0,290.80 L651.0,290.20 L652.0,289.28 L653.0,288.36 L654.0,287.45 L655.0,286.53 L656.0,285.61 L657.0,284.70 L658.0,283.78 L658.2,283.60 L659.0,283.06 L660.0,282.40 L661.0,281.73 L662.0,281.06 L663.0,280.40 L664.0,279.73 L665.0,279.07 L665.4,278.80 L666.0,278.42 L667.0,277.80 L668.0,277.17 L669.0,276.55 L670.0,275.92 L670.2,275.80 L671.0,275.70 L672.0,275.57 L673.0,275.45 L674.0,275.32 L675.0,275.20 L676.0,275.23 L677.0,275.25 L678.0,275.28 L679.0,275.31 L680.0,275.34 L681.0,275.37 L682.0,275.40 L683.0,275.59 L684.0,275.79 L685.0,275.98 L686.0,276.17 L687.0,276.37 L688.0,276.56 L689.0,276.76 L689.2,276.80 L690.0,276.78 L691.0,276.76 L692.0,276.74 L693.0,276.72 L694.0,276.70 L695.0,276.68 L696.0,276.66 L697.0,276.65 L698.0,276.63 L699.0,276.62 L700.0,276.60 L701.0,276.13 L702.0,275.66 L703.0,275.20 L704.0,274.73 L705.0,274.26 L706.0,273.80 L707.0,273.46 L708.0,273.13 L709.0,272.80 L710.0,272.46 L711.0,272.13 L712.0,271.80 L713.0,271.47 L713.2,271.40 L714.0,270.90 L715.0,270.27 L716.0,269.64 L717.0,269.02 L718.0,268.39 L719.0,267.77 L720.0,267.14 L721.0,266.52 L722.0,265.90 L722.8,265.40 L723.0,265.21 L724.0,264.27 L725.0,263.33 L726.0,262.39 L727.0,261.45 L728.0,260.52 L729.0,259.58 L730.0,258.64 L731.0,257.71 L732.0,256.77 L732.4,256.40 L733.0,256.10 L734.0,255.60 L735.0,255.10 L736.0,254.60 L737.0,254.10 L738.0,253.60 L739.0,253.10 L739.6,252.80 L740.0,252.47 L741.0,251.63 L742.0,250.80 L743.0,249.96 L744.0,249.13 L745.0,248.30 L746.0,247.46 L746.8,246.80 L747.0,246.73 L748.0,246.40 L749.0,246.06 L750.0,245.73 L751.0,245.40 L752.0,245.06 L753.0,244.73 L754.0,244.40 L755.0,243.90 L756.0,243.40 L757.0,242.90 L758.0,242.40 L759.0,241.90 L760.0,241.40 L761.0,240.90 L761.2,240.80 L762.0,240.33 L763.0,239.75 L764.0,239.16 L765.0,238.58 L766.0,238.00 L767.0,237.41 L768.0,236.83 L768.4,236.60 L769.0,236.48 L770.0,236.28 L771.0,236.08 L772.0,235.88 L773.0,235.68 L774.0,235.48 L774.4,235.40 L775.0,235.04 L776.0,234.44 L777.0,233.84 L778.0,233.24 L779.0,232.64 L780.0,232.04 L780.4,231.80 L781.0,231.44 L782.0,230.84 L783.0,230.24 L784.0,229.64 L785.0,229.04 L786.0,228.44 L786.4,228.20 L787.0,227.73 L788.0,226.95 L789.0,226.16 L790.0,225.38 L791.0,224.60 L792.0,224.10 L793.0,223.60 L794.0,223.09 L795.0,222.59 L796.0,222.09 L797.0,221.59 L798.0,221.10 L799.0,220.60 L799.4,220.40 L800.0,220.00 L801.0,219.33 L802.0,218.66 L803.0,217.99 L804.0,217.33 L805.0,216.66 L806.0,216.00 L806.6,215.60 L807.0,215.24 L808.0,214.34 L809.0,213.44 L810.0,212.54 L811.0,211.64 L812.0,210.74 L812.6,210.20 L813.0,209.72 L814.0,208.52 L815.0,207.32 L816.0,206.12 L817.0,204.92 L818.0,203.72 L818.6,203.00 L819.0,202.44 L820.0,201.04 L821.0,199.64 L822.0,198.24 L823.0,196.84 L824.0,195.44 L824.6,194.60 L825.0,194.12 L826.0,192.92 L827.0,191.72 L828.0,190.52 L829.0,189.32 L830.0,188.12 L830.6,187.40 L831.0,186.92 L832.0,185.72 L833.0,184.52 L834.0,183.32 L835.0,182.12 L836.0,180.92 L836.6,180.20 L837.0,179.80 L838.0,178.80 L839.0,177.80 L840.0,176.80 L841.0,175.80 L842.0,174.80 L842.6,174.20 L843.0,173.76 L844.0,172.66 L845.0,171.56 L846.0,170.46 L847.0,169.36 L848.0,168.26 L848.6,167.60 L849.0,167.24 L850.0,166.34 L851.0,165.44 L852.0,164.54 L853.0,163.64 L854.0,162.74 L854.6,162.20 L855.0,161.76 L856.0,160.66 L857.0,159.56 L858.0,158.46 L859.0,157.36 L860.0,156.26 L860.6,155.60 L861.0,155.39 L862.0,154.85 L863.0,154.32 L864.0,153.78 L865.0,153.25 L866.0,152.72 L866.6,152.40 L867.0,152.40 L868.0,152.40 L869.0,152.40 L870.0,152.39 L871.0,152.40 L872.0,152.40 L873.0,152.40 L873.8,152.40 L874.0,152.49 L875.0,152.92 L876.0,153.35 L877.0,153.78 L878.0,154.22 L879.0,154.65 L879.8,155.00 L880.0,155.13 L881.0,155.80 L882.0,156.46 L883.0,157.13 L884.0,157.80 L885.0,158.46 L886.0,159.13 L887.0,159.80 L888.0,160.50 L889.0,161.20 L890.0,161.90 L891.0,162.60 L892.0,163.30 L893.0,164.00 L894.0,164.70 L895.0,165.40 L896.0,166.10 L897.0,166.80 L898.0,167.50 L899.0,168.20 L900.0,168.53 L901.0,168.87 L902.0,169.20 L902.6,169.40 L903.0,169.40 L904.0,169.40 L905.0,169.40 L906.0,169.40 L907.0,169.40 L908.0,169.39 L909.0,169.39 L910.0,169.39 L911.0,169.39 L912.0,169.40 L913.0,169.40 L913.2,169.40 L914.0,169.07 L915.0,168.65 L916.0,168.23 L917.0,167.81 L918.0,167.40 L919.0,166.98 L920.0,166.57 L921.0,166.16 L922.0,165.74 L923.0,165.41 L924.0,165.08 L925.0,164.74 L926.0,164.41 L927.0,164.08 L928.0,163.75 L929.0,163.42 L930.0,163.09 L931.0,162.76 L932.0,162.44 L933.0,162.06 L934.0,161.69 L935.0,161.32 L936.0,160.95 L937.0,160.58 L938.0,160.21 L939.0,159.84 L940.0,159.70 L941.0,159.56 L942.0,159.41 L943.0,159.27 L944.0,159.02 L945.0,158.76 L946.0,158.51 L947.0,158.26 L948.0,157.99 L949.0,157.73 L950.0,157.47 L951.0,157.21 L952.0,156.73 L953.0,156.25 L954.0,155.78 L955.0,155.30 L956.0,155.14 L957.0,154.97 L958.0,154.81 L959.0,154.65 L960.0,154.50 L961.0,154.35 L962.0,154.20 L963.0,154.05 L964.0,153.66 L965.0,153.27 L966.0,152.87 L967.0,152.48 L968.0,152.32 L969.0,152.15 L970.0,151.98 L971.0,151.82 L972.0,151.50 L973.0,151.19 L974.0,150.87 L975.0,150.56 L976.0,150.36 L977.0,150.15 L978.0,149.95 L979.0,149.75 L980.0,149.44 L981.0,149.12 L982.0,148.81 L983.0,148.50 L984.0,148.15 L985.0,147.80 L986.0,147.45 L987.0,147.10 L988.0,146.87 L989.0,146.64 L990.0,146.41 L991.0,146.18 L992.0,145.94 L993.0,145.71 L994.0,145.47 L995.0,145.24 L996.0,145.03 L997.0,144.83 L998.0,144.62 L999.0,144.41 L1000.0,144.34 L1001.0,144.27 L1002.0,144.19 L1003.0,144.12 L1004.0,143.81 L1005.0,143.50 L1006.0,143.20 L1007.0,142.89 L1008.0,142.70 L1009.0,142.52 L1010.0,142.33 L1011.0,142.15 L1012.0,141.86 L1013.0,141.58 L1014.0,141.30 L1015.0,141.02 L1016.0,140.81 L1017.0,140.60 L1018.0,140.39 L1019.0,140.19 L1020.0,140.01 L1021.0,139.83 L1022.0,139.65 L1023.0,139.47 L1024.0,139.28 L1025.0,139.09 L1026.0,138.89 L1027.0,138.70 L1028.0,138.49 L1029.0,138.27 L1030.0,138.05 L1031.0,137.84 L1032.0,137.60 L1033.0,137.37 L1034.0,137.14 L1035.0,136.91 L1036.0,136.54 L1037.0,136.17 L1038.0,135.79 L1039.0,135.42 L1040.0,135.28 L1041.0,135.13 L1042.0,134.99 L1043.0,134.84 L1044.0,134.57 L1045.0,134.29 L1046.0,134.01 L1047.0,133.74 L1048.0,133.65 L1049.0,133.57 L1050.0,133.49 L1051.0,133.40 L1052.0,133.26 L1053.0,133.12 L1054.0,132.98 L1055.0,132.84 L1056.0,132.48 L1057.0,132.12 L1058.0,131.75 L1059.0,131.39 L1060.0,131.23 L1061.0,131.07 L1062.0,130.91 L1063.0,130.75 L1064.0,130.60 L1065.0,130.46 L1066.0,130.31 L1067.0,130.16 L1068.0,129.95 L1069.0,129.73 L1070.0,129.52 L1071.0,129.31 L1072.0,129.25 L1073.0,129.19 L1074.0,129.13 L1075.0,129.08 L1076.0,128.80 L1077.0,128.52 L1078.0,128.24 L1079.0,127.96 L1080.0,127.85 L1081.0,127.73 L1082.0,127.62 L1083.0,127.51 L1084.0,127.30 L1085.0,127.09 L1086.0,126.89 L1087.0,126.68 L1088.0,126.53 L1089.0,126.38 L1090.0,126.23 L1091.0,126.08 L1092.0,125.99 L1093.0,125.90 L1094.0,125.81 L1095.0,125.72 L1096.0,125.56 L1097.0,125.39 L1098.0,125.23 L1099.0,125.06 L1100.0,124.71 L1101.0,124.36 L1102.0,124.01 L1103.0,123.66 L1104.0,123.67 L1105.0,123.67 L1106.0,123.67 L1107.0,123.68 L1108.0,123.44 L1109.0,123.20 L1110.0,122.95 L1111.0,122.71 L1112.0,122.56 L1113.0,122.41 L1114.0,122.25 L1115.0,122.10 L1116.0,121.99 L1117.0,121.88 L1118.0,121.77 L1119.0,121.66 L1120.0,121.54 L1121.0,121.41 L1122.0,121.30 L1123.0,121.18 L1124.0,121.08 L1125.0,120.99 L1126.0,120.90 L1127.0,120.80 L1128.0,120.63 L1129.0,120.47 L1130.0,120.30 L1131.0,120.13 L1132.0,119.98 L1133.0,119.83 L1134.0,119.68 L1135.0,119.54 L1136.0,119.46 L1137.0,119.38 L1138.0,119.30 L1139.0,119.22 L1139.3,119.20 L1140.0,119.03 L1141.0,118.78 L1142.0,118.53 L1143.0,118.29 L1144.0,118.04 L1145.0,117.80 L1146.0,117.55 L1147.0,117.31 L1148.0,117.07 L1148.7,116.90 L1149.0,116.85 L1150.0,116.70 L1151.0,116.55 L1152.0,116.40 L1153.0,116.25 L1154.0,116.10 L1155.0,115.95 L1156.0,115.80 L1157.0,115.65 L1158.0,115.50 L1159.0,115.44 L1160.0,115.39 L1161.0,115.33 L1162.0,115.28 L1163.0,115.22 L1164.0,115.17 L1165.0,115.12 L1166.0,115.07 L1167.0,115.02 L1167.3,115.00 L1168.0,114.76 L1169.0,114.42 L1170.0,114.08 L1171.0,113.74 L1172.0,113.40 L1172.9,113.10 L1173.0,113.10 L1174.0,113.10 L1175.0,113.10 L1176.0,113.09 L1177.0,113.09 L1178.0,113.09 L1179.0,113.09 L1180.0,113.09 L1181.0,113.10 L1182.0,113.10 L1182.3,113.10 L1183.0,113.29 L1184.0,113.56 L1185.0,113.83 L1186.0,114.10 L1187.0,114.14 L1188.0,114.18 L1189.0,114.23 L1190.0,114.27 L1190.7,114.30 L1191.0,114.37 L1192.0,114.62 L1193.0,114.86 L1194.0,115.11 L1195.0,115.36 L1196.0,115.60 L1197.0,115.85 L1197.2,115.90 L1198.0,116.24 L1199.0,116.67 L1200.0,117.10 L1201.0,117.53 L1202.0,117.96 L1202.8,118.30 L1203.0,118.40 L1204.0,118.89 L1205.0,119.38 L1206.0,119.87 L1207.0,120.36 L1208.0,120.86 L1209.0,121.35 L1209.3,121.50 L1210.0,121.76 L1211.0,122.13 L1212.0,122.49 L1213.0,122.86 L1214.0,123.23 L1215.0,123.60 L1215.8,123.90 L1216.0,123.97 L1217.0,124.32 L1218.0,124.66 L1219.0,125.01 L1220.0,125.36 L1221.0,125.71 L1222.0,126.06 L1222.4,126.20 L1223.0,126.37 L1224.0,126.67 L1225.0,126.96 L1226.0,127.25 L1227.0,127.54 L1228.0,127.84 L1228.9,128.10 L1229.0,128.10 L1230.0,128.10 L1231.0,128.10 L1232.0,128.10 L1233.0,128.09 L1234.0,128.10 L1235.0,128.10 L1236.0,128.10 L1237.0,128.10 L1237.3,128.10 L1238.0,127.89 L1239.0,127.59 L1240.0,127.29 L1241.0,127.00 L1242.0,126.70 L1243.0,126.52 L1244.0,126.33 L1245.0,126.15 L1246.0,125.96 L1247.0,125.78 L1248.0,125.60 L1249.0,125.58 L1250.0,125.55 L1251.0,125.53 L1252.0,125.51 L1252.5,125.50 L1253.0,125.27 L1254.0,124.81 L1255.0,124.34 L1256.0,123.88 L1257.0,123.42 L1258.0,122.96 L1259.0,122.50 L1260.0,121.99 L1261.0,121.49 L1262.0,120.98 L1263.0,120.47 L1264.0,119.97 L1265.0,119.46 L1266.0,118.96 L1267.0,118.45 L1268.0,117.95 L1268.3,117.80 L1269.0,117.55 L1270.0,117.20 L1271.0,116.85 L1272.0,116.50 L1273.0,116.14 L1274.0,115.79 L1275.0,115.44 L1276.0,115.09 L1277.0,114.74 L1277.7,114.50 L1278.0,114.36 L1279.0,113.88 L1280.0,113.41 L1281.0,112.94 L1282.0,112.46 L1283.0,111.99 L1284.0,111.52 L1285.0,111.05 L1285.1,111.00 L1286.0,111.00 L1287.0,111.00 L1288.0,111.00 L1289.0,111.00 L1290.0,111.00 L1291.0,111.00 L1292.0,111.00 L1292.6,111.00 L1293.0,111.16 L1294.0,111.56 L1295.0,111.96 L1296.0,112.36 L1297.0,112.76 L1298.0,113.16 L1299.0,113.56 L1299.1,113.60 L1300.0,113.98 L1301.0,114.40 L1302.0,114.83 L1303.0,115.25 L1304.0,115.68 L1305.0,116.10 L1305.7,116.40 L1306.0,116.61 L1307.0,117.29 L1308.0,117.98 L1309.0,118.67 L1310.0,119.36 L1311.0,120.05 L1312.0,120.74 L1313.0,121.43 L1313.1,121.50 L1314.0,122.17 L1315.0,122.92 L1316.0,123.66 L1317.0,124.41 L1318.0,125.16 L1319.0,125.90 L1320.0,126.65 L1320.6,127.10 L1321.0,127.30 L1322.0,127.81 L1323.0,128.32 L1324.0,128.82 L1325.0,129.33 L1326.0,129.84 L1327.0,130.35 L1327.1,130.40 L1328.0,130.47 L1329.0,130.54 L1330.0,130.62 L1331.0,130.70 L1332.0,130.77 L1333.0,130.85 L1333.6,130.90 L1334.0,130.78 L1335.0,130.50 L1336.0,130.21 L1337.0,129.92 L1338.0,129.63 L1339.0,129.34 L1340.0,129.06 L1340.2,129.00 L1341.0,128.15 L1342.0,127.09 L1343.0,126.03 L1344.0,124.97 L1345.0,123.92 L1346.0,122.86 L1347.0,121.80 L1348.0,120.60 L1349.0,119.41 L1350.0,118.21 L1351.0,117.01 L1352.0,115.82 L1352.6,115.10 L1353.0,114.72 L1354.0,113.78 L1355.0,112.84 L1355.9,112.00 L1356.0,111.89 L1357.0,110.82 L1358.0,109.75 L1358.7,109.00 L1359.0,108.82 L1360.0,108.23 L1361.0,107.63 L1361.9,107.10 L1362.0,107.04 L1363.0,106.40 L1364.0,105.76 L1365.0,105.13 L1365.2,105.00 L1366.0,104.50 L1367.0,103.88 L1368.0,103.26 L1368.9,102.70 L1369.0,102.66 L1370.0,102.25 L1371.0,101.85 L1372.0,101.45 L1373.0,101.04 L1373.6,100.80 L1374.0,100.93 L1375.0,101.25 L1376.0,101.58 L1377.0,101.90 L1377.3,102.00 L1378.0,102.42 L1379.0,103.03 L1380.0,103.63 L1381.0,104.24 L1381.1,104.30 L1382.0,104.93 L1383.0,105.63 L1384.0,106.34 L1384.8,106.90 L1385.0,107.06 L1386.0,107.85 L1387.0,108.64 L1388.0,109.43 L1388.6,109.90 L1389.0,110.22 L1390.0,111.04 L1391.0,111.85 L1392.0,112.66 L1393.0,113.48 L1394.0,114.29 L1394.5,114.70 L1395.0,115.12 L1396.0,115.95 L1397.0,116.78 L1398.0,117.61 L1399.0,118.45 L1400.0,119.28 L1401.0,120.11 L1402.0,120.95 L1402.9,121.70 L1403.0,121.78 L1404.0,122.56 L1405.0,123.35 L1406.0,124.14 L1407.0,124.92 L1408.0,125.71 L1409.0,126.50 L1410.0,127.29 L1411.0,128.07 L1412.0,128.86 L1412.3,129.10 L1413.0,129.49 L1414.0,130.05 L1415.0,130.61 L1416.0,131.16 L1417.0,131.72 L1418.0,132.28 L1419.0,132.84 L1420.0,133.40 L1421.0,133.96 L1421.6,134.30 L1422.0,134.31 L1423.0,134.32 L1424.0,134.33 L1425.0,134.35 L1426.0,134.36 L1427.0,134.37 L1428.0,134.39 L1429.0,134.40 L1430.0,134.42 L1431.0,134.44 L1432.0,134.45 L1433.0,134.47 L1434.0,134.49 L1434.6,134.50 L1435.0,134.34 L1436.0,133.94 L1437.0,133.54 L1438.0,133.14 L1439.0,132.74 L1440.0,132.34 L1441.0,131.94 L1442.0,131.54 L1442.1,131.50 L1443.0,130.46 L1444.0,129.31 L1445.0,128.15 L1446.0,127.00 L1447.0,125.84 L1448.0,124.69 L1448.6,124.00 L1449.0,123.46 L1450.0,122.11 L1451.0,120.76 L1452.0,119.41 L1453.0,118.06 L1454.0,116.72 L1455.0,115.37 L1455.2,115.10 L1456.0,113.89 L1457.0,112.37 L1458.0,110.86 L1459.0,109.35 L1460.0,107.83 L1461.0,106.32 L1462.0,104.81 L1462.6,103.90 L1463.0,103.27 L1464.0,101.69 L1465.0,100.12 L1466.0,98.55 L1467.0,96.97 L1467.3,96.50 L1468.0,95.38 L1469.0,93.79 L1470.0,92.19 L1471.0,90.60 L1472.0,89.00 L1472.0,89.00 L1473.4,80.60" fill="none" stroke="#0000e2" stroke-width="1.85" stroke-linejoin="round"/>
<g stroke="#000" stroke-opacity="0.59" stroke-width="2" fill="none">
<line x1="74.0" y1="8.0" x2="1474.0" y2="8.0"/><line x1="1473.0" y1="8.0" x2="1473.0" y2="681.0"/><line x1="1474.0" y1="681.0" x2="74.0" y2="681.0"/><line x1="75.0" y1="681.0" x2="75.0" y2="8.0"/>
<line x1="202.09" y1="681.0" x2="202.09" y2="666.5"/><line x1="202.09" y1="8.0" x2="202.09" y2="22.5"/><line x1="329.18" y1="681.0" x2="329.18" y2="666.5"/><line x1="329.18" y1="8.0" x2="329.18" y2="22.5"/><line x1="456.27" y1="681.0" x2="456.27" y2="666.5"/><line x1="456.27" y1="8.0" x2="456.27" y2="22.5"/><line x1="583.36" y1="681.0" x2="583.36" y2="666.5"/><line x1="583.36" y1="8.0" x2="583.36" y2="22.5"/><line x1="710.45" y1="681.0" x2="710.45" y2="666.5"/><line x1="710.45" y1="8.0" x2="710.45" y2="22.5"/><line x1="837.55" y1="681.0" x2="837.55" y2="666.5"/><line x1="837.55" y1="8.0" x2="837.55" y2="22.5"/><line x1="964.64" y1="681.0" x2="964.64" y2="666.5"/><line x1="964.64" y1="8.0" x2="964.64" y2="22.5"/><line x1="1091.73" y1="681.0" x2="1091.73" y2="666.5"/><line x1="1091.73" y1="8.0" x2="1091.73" y2="22.5"/><line x1="1218.82" y1="681.0" x2="1218.82" y2="666.5"/><line x1="1218.82" y1="8.0" x2="1218.82" y2="22.5"/><line x1="1345.91" y1="681.0" x2="1345.91" y2="666.5"/><line x1="1345.91" y1="8.0" x2="1345.91" y2="22.5"/><line x1="75.0" y1="596.88" x2="89.0" y2="596.88"/><line x1="1473.0" y1="596.88" x2="1459.0" y2="596.88"/><line x1="75.0" y1="512.75" x2="89.0" y2="512.75"/><line x1="1473.0" y1="512.75" x2="1459.0" y2="512.75"/><line x1="75.0" y1="428.62" x2="89.0" y2="428.62"/><line x1="1473.0" y1="428.62" x2="1459.0" y2="428.62"/><line x1="75.0" y1="344.50" x2="89.0" y2="344.50"/><line x1="1473.0" y1="344.50" x2="1459.0" y2="344.50"/><line x1="75.0" y1="260.38" x2="89.0" y2="260.38"/><line x1="1473.0" y1="260.38" x2="1459.0" y2="260.38"/><line x1="75.0" y1="176.25" x2="89.0" y2="176.25"/><line x1="1473.0" y1="176.25" x2="1459.0" y2="176.25"/><line x1="75.0" y1="92.12" x2="89.0" y2="92.12"/><line x1="1473.0" y1="92.12" x2="1459.0" y2="92.12"/>
</g>
<g font-size="24.5"><text transform="translate(74.50,706.3) scale(1.08,1)" text-anchor="middle">450</text><text transform="translate(201.59,706.3) scale(1.08,1)" text-anchor="middle">500</text><text transform="translate(328.68,706.3) scale(1.08,1)" text-anchor="middle">550</text><text transform="translate(455.77,706.3) scale(1.08,1)" text-anchor="middle">600</text><text transform="translate(582.86,706.3) scale(1.08,1)" text-anchor="middle">650</text><text transform="translate(709.95,706.3) scale(1.08,1)" text-anchor="middle">700</text><text transform="translate(837.05,706.3) scale(1.08,1)" text-anchor="middle">750</text><text transform="translate(964.14,706.3) scale(1.08,1)" text-anchor="middle">800</text><text transform="translate(1091.23,706.3) scale(1.08,1)" text-anchor="middle">850</text><text transform="translate(1218.32,706.3) scale(1.08,1)" text-anchor="middle">900</text><text transform="translate(1345.41,706.3) scale(1.08,1)" text-anchor="middle">950</text><text transform="translate(1472.50,706.3) scale(1.08,1)" text-anchor="middle">1000</text><text transform="translate(70.5,689.20) scale(1.08,1)" text-anchor="end">0</text><text transform="translate(70.5,605.08) scale(1.08,1)" text-anchor="end">10</text><text transform="translate(70.5,520.95) scale(1.08,1)" text-anchor="end">20</text><text transform="translate(70.5,436.82) scale(1.08,1)" text-anchor="end">30</text><text transform="translate(70.5,352.70) scale(1.08,1)" text-anchor="end">40</text><text transform="translate(70.5,268.57) scale(1.08,1)" text-anchor="end">50</text><text transform="translate(70.5,184.45) scale(1.08,1)" text-anchor="end">60</text><text transform="translate(70.5,100.33) scale(1.08,1)" text-anchor="end">70</text><text transform="translate(70.5,16.20) scale(1.08,1)" text-anchor="end">80</text></g>
<g font-size="35">
<text transform="translate(617,741.8) scale(1.03,1)">Wavelength</text>
<path d="M832.6,714.2 C826.5,718.5 822.2,723.5 822.2,728.6 C822.2,733.7 826.5,738.7 832.6,743 C828.2,738.4 825.4,733.7 825.4,728.6 C825.4,723.5 828.2,718.8 832.6,714.2 Z" fill="#000" stroke="#000" stroke-width="0.7" stroke-linejoin="round"/>
<text transform="translate(840,741.8) scale(1.0,1)">nm</text>
<path d="M894.2,714.2 C900.3,718.5 904.6,723.5 904.6,728.6 C904.6,733.7 900.3,738.7 894.2,743 C898.6,738.4 901.4,733.7 901.4,728.6 C901.4,723.5 898.6,718.8 894.2,714.2 Z" fill="#000" stroke="#000" stroke-width="0.7" stroke-linejoin="round"/>
</g>
<g font-size="36">
<text transform="translate(28.6,561.5) rotate(-90) scale(1.025,1)">Irradiance</text>
<text transform="translate(28.6,355) rotate(-90) scale(1.015,1)">&#956;W/cm2/nm</text>
<path d="M1.4,362 C5.5,368.5 10,372.8 15.2,372.8 C20.4,372.8 24.9,368.5 29,362 C24.5,366.5 20.2,369.4 15.2,369.4 C10.2,369.4 5.9,366.5 1.4,362 Z" fill="#000" stroke="#000" stroke-width="0.7" stroke-linejoin="round"/>
<path d="M1.4,154.3 C5.5,147.8 10,143.5 15.2,143.5 C20.4,143.5 24.9,147.8 29,154.3 C24.5,149.8 20.2,146.9 15.2,146.9 C10.2,146.9 5.9,149.8 1.4,154.3 Z" fill="#000" stroke="#000" stroke-width="0.7" stroke-linejoin="round"/>
</g>
<line x1="174" y1="71" x2="219.4" y2="71" stroke="#ee0000" stroke-width="3"/>
<line x1="174" y1="140.3" x2="219.4" y2="140.3" stroke="#0000e2" stroke-width="2"/>
<g font-size="36.4">
<text transform="translate(224.5,85) scale(1.03,1)">3000K</text>
<text transform="translate(338,85) scale(0.985,1)">Blackbody Curve</text>
<text transform="translate(224.5,153) scale(1.03,1)">3000K</text>
<text transform="translate(337.6,153) scale(0.987,1)">Simulation Curve</text>
</g>
</svg>
</body></html>
